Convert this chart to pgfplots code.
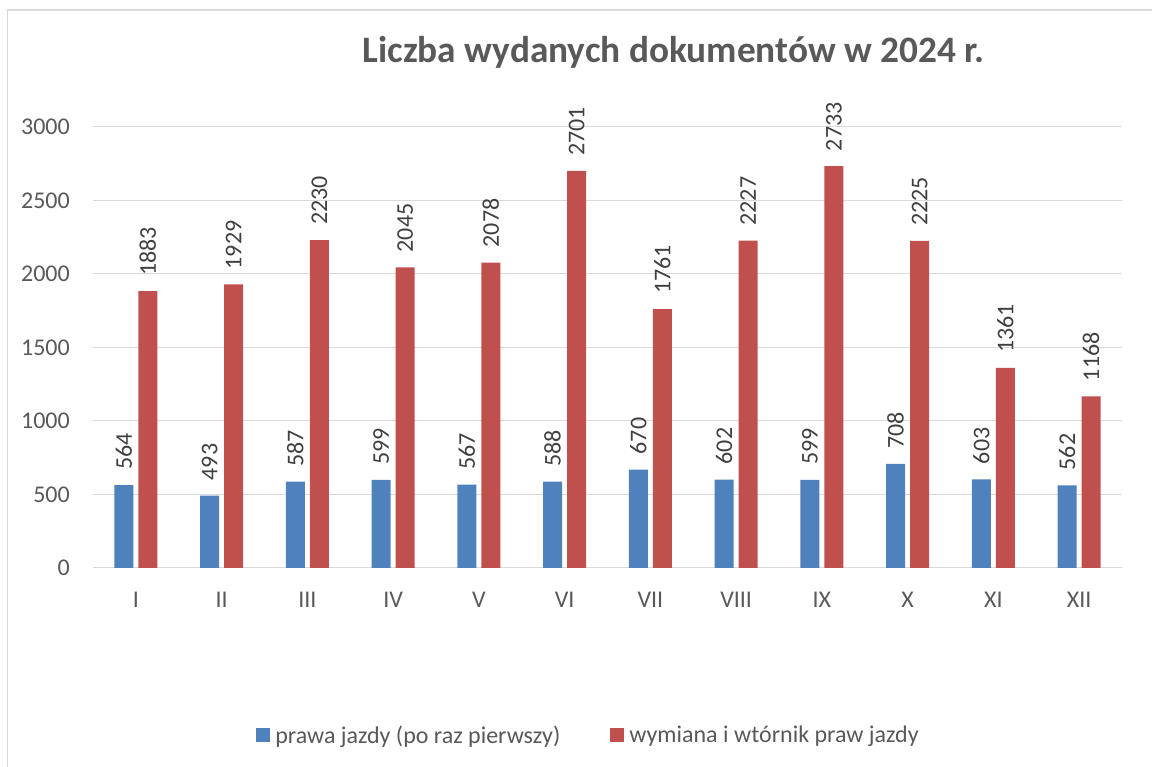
\documentclass[border=0pt]{standalone}
\usepackage{pgfplots}
\pgfplotsset{compat=1.18}
\usepackage{fontspec}
\setmainfont{Carlito}
\definecolor{cblue}{HTML}{4F81BD}
\definecolor{cred}{HTML}{C0504D}
\definecolor{cgrid}{HTML}{D9D9D9}
\definecolor{ctext}{HTML}{595959}
\definecolor{clab}{HTML}{404040}
\begin{document}
\begin{tikzpicture}[x=1pt,y=1pt]
\useasboundingbox (0,0) rectangle (1152,767);
\draw[cgrid, line width=1.5pt] (7.3,-20) -- (7.3,757) -- (1180,757);
\node[anchor=base, text=ctext, font=\fontsize{37.3}{42}\selectfont\bfseries, inner sep=0pt] at (673.5,704) {Liczba wydanych dokumentów w 2024 r.};
\begin{axis}[
  at={(93pt,199pt)}, anchor=south west,
  scale only axis, width=1029pt, height=441pt,
  xmin=0.5, xmax=12.5, ymin=0, ymax=3000,
  ytick={0,500,...,3000},
  xtick={1,...,12},
  xticklabels={I,II,III,IV,V,VI,VII,VIII,IX,X,XI,XII},
  major tick length=0pt,
  axis line style={draw=none},
  ymajorgrids, major grid style={cgrid, line width=1pt},
  clip=false,
  /pgf/number format/assume math mode=true,
  /pgf/number format/1000 sep={},
  scaled y ticks=false,
  ticklabel style={font=\fontsize{24}{28}\selectfont, text=ctext},
  yticklabel style={anchor=east, inner sep=0pt, xshift=-23pt},
  xticklabel style={anchor=north, inner sep=0pt, yshift=-24pt},
  nodes near coords,
  nodes near coords style={anchor=west, inner ysep=0pt, inner xsep=15pt, font=\fontsize{24}{28}\selectfont, text=clab},
  legend style={draw=none, at={(axis description cs:0.4815,-0.3787)}, anchor=center, legend columns=2,
    font=\fontsize{24}{28}\selectfont, text=ctext,
    /tikz/every odd column/.append style={column sep=3pt},
    /tikz/every even column/.append style={column sep=48pt}},
  legend cell align=left,
  legend image code/.code={\fill[#1] (0pt,-7pt) rectangle (14pt,7pt);},
]
\addplot[ybar, bar width=19pt, bar shift=-12pt, fill=cblue, draw=none,
  nodes near coords style={xshift=-12pt, rotate=90}] coordinates {
(1,564) (2,493) (3,587) (4,599) (5,567) (6,588) (7,670) (8,602) (9,599) (10,708) (11,603) (12,562)};
\addlegendentry{prawa jazdy (po raz pierwszy)}
\addplot[ybar, bar width=19pt, bar shift=12pt, fill=cred, draw=none,
  nodes near coords style={xshift=12pt, rotate=90}] coordinates {
(1,1883) (2,1929) (3,2230) (4,2045) (5,2078) (6,2701) (7,1761) (8,2227) (9,2733) (10,2225) (11,1361) (12,1168)};
\addlegendentry{wymiana i wtórnik praw jazdy}
\end{axis}
\end{tikzpicture}
\end{document}
